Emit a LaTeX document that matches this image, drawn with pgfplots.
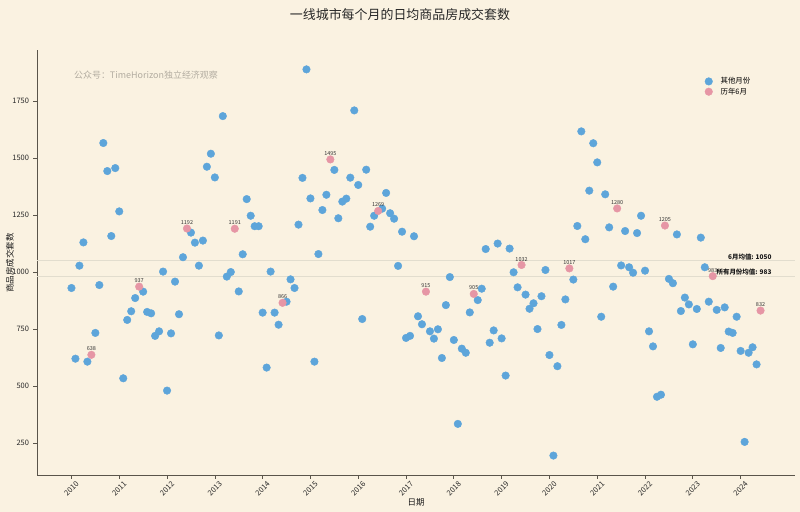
\documentclass[border=0pt]{standalone}
\usepackage{fontspec}
\setmainfont{Noto Sans CJK SC}
\usepackage{pgfplots}
\usepackage{pgfplotstable}
\pgfplotsset{compat=1.18}
\pgfplotsset{/pgf/number format/1000 sep={}, /pgf/number format/assume math mode=true}
\definecolor{bg}{HTML}{FAF2E1}
\definecolor{ptblue}{HTML}{5DA5DA}
\definecolor{ptpink}{HTML}{E696A5}
\definecolor{spine}{HTML}{5A554B}
\definecolor{avgline}{RGB}{226,221,206}
\definecolor{wm}{RGB}{178,172,160}

% month index m: 0 = 2010-01
\pgfplotstableread{
m v
0 931
1 621
2 1029
3 1131
4 608
6 734
7 944
8 1567
9 1444
10 1159
11 1457
12 1267
13 535
14 791
15 829
16 887
18 915
19 826
20 820
21 721
22 741
23 1003
24 481
25 732
26 959
27 816
28 1066
30 1174
31 1130
32 1029
33 1139
34 1463
35 1520
36 1416
37 723
38 1685
39 981
40 1001
42 916
43 1079
44 1321
45 1248
46 1202
47 1202
48 823
49 582
50 1003
51 823
52 770
54 871
55 969
56 931
57 1209
58 1414
59 1890
60 1324
61 608
62 1080
63 1273
64 1340
66 1449
67 1237
68 1310
69 1323
70 1415
71 1710
72 1383
73 795
74 1450
75 1200
76 1248
78 1279
79 1348
80 1259
81 1235
82 1028
83 1178
84 712
85 721
86 1158
87 807
88 772
90 741
91 709
92 750
93 624
94 856
95 979
96 703
97 335
98 665
99 647
100 824
102 878
103 928
104 1102
105 691
106 745
107 1126
108 710
109 547
110 1104
111 1000
112 934
114 902
115 840
116 864
117 751
118 895
119 1010
120 637
121 196
122 588
123 769
124 881
126 968
127 1203
128 1618
129 1145
130 1358
131 1566
132 1482
133 805
134 1342
135 1197
136 937
138 1030
139 1181
140 1022
141 998
142 1172
143 1248
144 1007
145 741
146 675
147 454
148 463
150 971
151 952
152 1166
153 830
154 889
155 859
156 684
157 839
158 1152
159 1022
160 871
162 835
163 668
164 846
165 740
166 734
167 805
168 655
169 256
170 647
171 671
172 596
}\others

\pgfplotstableread{
m v
5 638
17 937
29 1192
41 1191
53 866
65 1495
77 1269
89 915
101 905
113 1032
125 1017
137 1280
149 1205
161 983
173 832
}\june

\begin{document}
\begin{tikzpicture}
\fill[bg] (0,0) rectangle (800bp,512bp);
\useasboundingbox (0,0) rectangle (800bp,512bp);
\begin{axis}[
  at={(37bp,37bp)}, anchor=south west, scale only axis,
  width=758bp, height=425bp,
  xmin=-8.65, xmax=181.65, ymin=110.8, ymax=1975,
  axis background/.style={fill=bg},
  axis x line*=bottom, axis y line*=left,
  axis line style={spine, line width=0.9bp, -},
  tick align=outside, major tick length=4bp,
  tick style={spine, line width=0.7bp},
  xtick={0,12,24,36,48,60,72,84,96,108,120,132,144,156,168},
  xticklabels={2010,2011,2012,2013,2014,2015,2016,2017,2018,2019,2020,2021,2022,2023,2024},
  ytick={250,500,750,1000,1250,1500,1750},
  tick label style={font=\fontsize{7.5}{9}\selectfont, text=black!85},
  xticklabel style={yshift=-10bp, rotate=45, anchor=center},
  yticklabel style={xshift=-0.5bp},
  xlabel={日期},
  label style={font=\fontsize{8.5}{10}\selectfont, text=black!90},
  xlabel style={at={(axis description cs:0.5,-0.0635)}, anchor=center},
  legend style={draw=none, fill=none, at={(0.877,0.945)}, anchor=north west,
    font=\fontsize{7.5}{9}\selectfont, row sep=-1.5bp,
    /tikz/every odd column/.append style={column sep=6bp}},
  legend cell align=left,
  clip=false,
]
\addplot[forget plot, avgline, line width=0.8bp] coordinates {(-8.65,1050) (181.65,1050)};
\addplot[forget plot, avgline, line width=0.8bp] coordinates {(-8.65,983) (181.65,983)};
\addplot[only marks, mark=*, mark size=3.8bp, color=ptblue, mark options={fill=ptblue, draw=ptblue}]
  table[x=m, y=v] {\others};
\addlegendentry{其他月份}
\addplot[only marks, mark=*, mark size=3.8bp, color=ptpink, mark options={fill=ptpink, draw=ptpink},
  point meta=y, nodes near coords,
  nodes near coords style={font=\fontsize{5.5}{6}\selectfont, text=black!80, anchor=south, inner sep=0.5bp, yshift=3.2bp}]
  table[x=m, y=v] {\june};
\addlegendentry{历年6月}
\node[anchor=south east, font=\fontsize{6.5}{7}\selectfont\bfseries, inner sep=0.8bp, text=black!90] at (axis cs:176,1050) {6月均值: 1050};
\node[anchor=south east, font=\fontsize{6.5}{7}\selectfont\bfseries, inner sep=0.8bp, text=black!90] at (axis cs:176,983) {所有月份均值: 983};
\end{axis}
\node[rotate=90, font=\fontsize{8.5}{10}\selectfont, text=black!90] at (10bp,249bp) {商品房成交套数};
\node[font=\fontsize{13}{15}\selectfont, text=black!85] at (400bp,497bp) {一线城市每个月的日均商品房成交套数};
\node[font=\fontsize{9}{11}\selectfont, text=wm] at (146bp,437bp) {公众号：TimeHorizon独立经济观察};
\end{tikzpicture}
\end{document}
